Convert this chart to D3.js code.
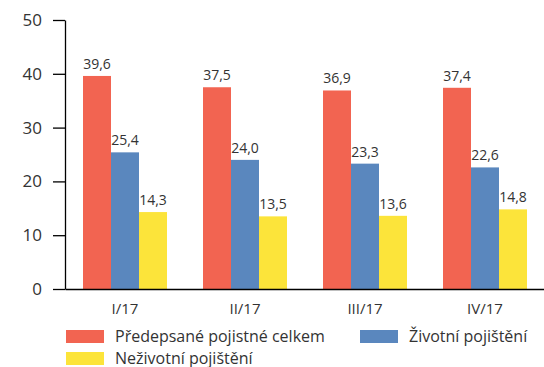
<!DOCTYPE html>
<html>
<head>
<meta charset="utf-8">
<script src="https://cdn.jsdelivr.net/npm/d3@7"></script>
<style>
  html, body { margin: 0; padding: 0; background: #fff; }
  svg { display: block; font-family: "Open Sans", "Noto Sans", sans-serif; }
</style>
</head>
<body>
<svg id="chart" width="544" height="367"></svg>
<script>
// Quarterly premiums (bn CZK)
const categories = ["I/17", "II/17", "III/17", "IV/17"];
const seriesNames = ["Předepsané pojistné celkem", "Životní pojištění", "Neživotní pojištění"];
const seriesColors = ["#F26451", "#5A87BE", "#FCE43A"];
const totalValues = [39.6, 37.5, 36.9, 37.4];
const lifeValues = [25.4, 24.0, 23.3, 22.6];
const nonLifeValues = [14.3, 13.5, 13.6, 14.8];
const yTicks = [0, 10, 20, 30, 40, 50];

const series = [totalValues, lifeValues, nonLifeValues];
const svg = d3.select("#chart");
const textColor = "#333";

const x = d3.scaleBand().domain(categories).range([65, 545]).paddingInner(0.3).paddingOuter(0.15);
const xs = d3.scaleBand().domain(d3.range(series.length)).range([0, x.bandwidth()]);
const y = d3.scaleLinear().domain([0, 50]).range([289, 20]);

// Bars and value labels
const fmt = v => d3.format(".1f")(v).replace(".", ",");
series.forEach((vals, si) => {
  const g = svg.append("g");
  g.selectAll("rect").data(vals).join("rect")
    .attr("x", (d, i) => x(categories[i]) + xs(si))
    .attr("y", d => y(d))
    .attr("width", xs.bandwidth())
    .attr("height", d => y(0) - y(d))
    .attr("fill", seriesColors[si]);
  g.selectAll("text").data(vals).join("text")
    .attr("x", (d, i) => x(categories[i]) + xs(si) + xs.bandwidth() / 2)
    .attr("y", d => y(d) - 7)
    .attr("text-anchor", "middle")
    .attr("font-size", 14)
    .attr("fill", textColor)
    .text(fmt);
});

// Y axis
const yAxis = svg.append("g").attr("transform", "translate(65,0)")
  .call(d3.axisLeft(y).tickValues(yTicks).tickSize(12).tickPadding(11).tickSizeOuter(0));
yAxis.select(".domain").attr("stroke", "#000").attr("stroke-width", 1.3);
yAxis.selectAll(".tick line").attr("stroke", "#000").attr("stroke-width", 1.3);
yAxis.selectAll(".tick text").attr("font-size", 17).attr("fill", textColor).attr("font-family", "Open Sans, sans-serif");

// X axis
const xAxis = svg.append("g").attr("transform", `translate(0,${y(0)})`)
  .call(d3.axisBottom(x).tickSize(0).tickPadding(14).tickSizeOuter(0));
xAxis.select(".domain").attr("stroke", "#000").attr("stroke-width", 1.3);
xAxis.selectAll(".tick text").attr("font-size", 15).attr("fill", textColor).attr("font-family", "Open Sans, sans-serif");

// Legend
const legendPos = [[66, 330], [360, 330], [66, 352]];
const legend = svg.append("g");
seriesNames.forEach((name, i) => {
  const [lx, ly] = legendPos[i];
  legend.append("rect").attr("x", lx).attr("y", ly).attr("width", 38).attr("height", 13).attr("fill", seriesColors[i]);
  legend.append("text").attr("x", lx + 49).attr("y", ly + 12)
    .attr("font-size", 16).attr("fill", textColor).text(name);
});
</script>
</body>
</html>
